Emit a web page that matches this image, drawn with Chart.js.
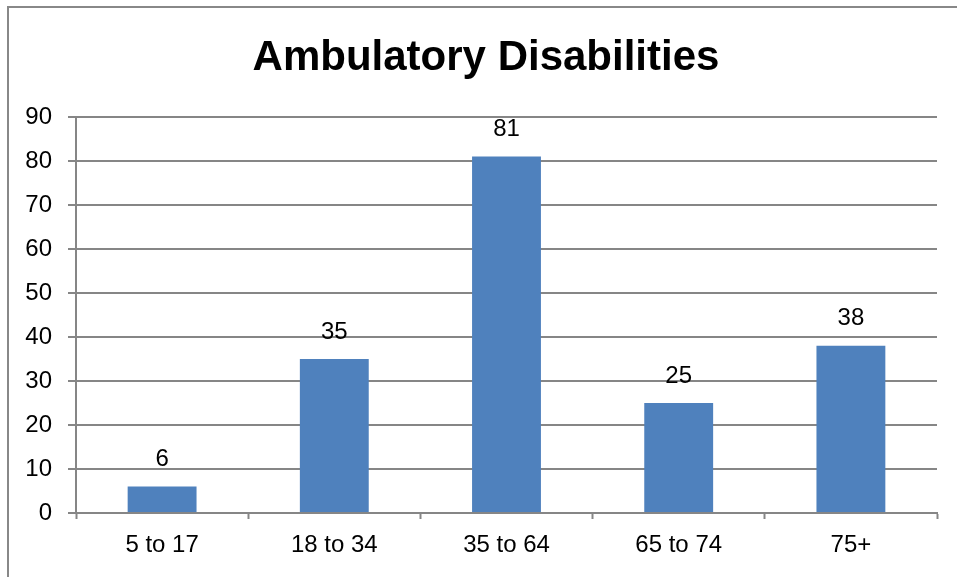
<!DOCTYPE html>
<html>
<head>
<meta charset="utf-8">
<script src="https://cdn.jsdelivr.net/npm/chart.js@4"></script>
<style>
  html, body { margin: 0; padding: 0; background: #fff; }
  #wrap { width: 957px; height: 577px; }
</style>
</head>
<body>
<div id="wrap"><canvas id="c" width="957" height="577"></canvas></div>
<script>
// Ambulatory Disabilities — column chart
const TITLE = 'Ambulatory Disabilities';
const CATEGORIES = ['5 to 17', '18 to 34', '35 to 64', '65 to 74', '75+'];
const VALUES = [6, 35, 81, 25, 38];
const Y_MIN = 0;
const Y_MAX = 90;
const Y_STEP = 10;

const BAR_COLOR = '#4f81bd';
const GRID_COLOR = '#868686';
const TEXT_COLOR = '#000';
const FONT = "'Liberation Sans', Arial, sans-serif";

// Outer chart border (runs off the right/bottom edge like the source)
const frame = {
  id: 'frame',
  beforeDraw(chart) {
    const ctx = chart.ctx;
    ctx.save();
    ctx.strokeStyle = '#888';
    ctx.lineWidth = 2;
    ctx.strokeRect(8, 7, 1000, 1000);
    ctx.restore();
  }
};

// Title centred on the (partly cropped) chart frame, not the canvas
const frameTitle = {
  id: 'frameTitle',
  afterDraw(chart) {
    const ctx = chart.ctx;
    ctx.save();
    ctx.fillStyle = TEXT_COLOR;
    ctx.font = 'bold 42px ' + FONT;
    ctx.textAlign = 'center';
    ctx.textBaseline = 'middle';
    ctx.fillText(TITLE, 486, 58);
    ctx.restore();
  }
};

// Value labels above each bar
const valueLabels = {
  id: 'valueLabels',
  afterDatasetsDraw(chart) {
    const ctx = chart.ctx;
    const meta = chart.getDatasetMeta(0);
    ctx.save();
    ctx.fillStyle = TEXT_COLOR;
    ctx.font = '24px ' + FONT;
    ctx.textAlign = 'center';
    ctx.textBaseline = 'bottom';
    meta.data.forEach((bar, i) => {
      ctx.fillText(VALUES[i], bar.x, bar.y - 15);
    });
    ctx.restore();
  }
};

new Chart(document.getElementById('c'), {
  type: 'bar',
  data: {
    labels: CATEGORIES,
    datasets: [{
      data: VALUES,
      backgroundColor: BAR_COLOR,
      borderWidth: 0,
      categoryPercentage: 1,
      barPercentage: 0.4,
    }],
  },
  options: {
    responsive: false,
    animation: false,
    devicePixelRatio: 1,
    layout: { padding: { left: 0, right: 20, top: 117, bottom: 0 } },
    plugins: {
      legend: { display: false },
      tooltip: { enabled: false },
      title: { display: false },
    },
    scales: {
      x: {
        grid: {
          drawOnChartArea: false,
          drawTicks: true,
          tickLength: 6,
          tickWidth: 2,
          color: GRID_COLOR,
        },
        border: { display: true, color: GRID_COLOR, width: 2 },
        ticks: { color: TEXT_COLOR, font: { family: FONT, size: 24 }, padding: 12 },
        afterFit(scale) { scale.height = 64; },
      },
      y: {
        min: Y_MIN,
        max: Y_MAX,
        grid: {
          color: GRID_COLOR,
          lineWidth: 2,
          drawTicks: true,
          tickLength: 8,
        },
        border: { display: true, color: GRID_COLOR, width: 2 },
        ticks: {
          stepSize: Y_STEP,
          color: TEXT_COLOR,
          font: { family: FONT, size: 24 },
          padding: 16,
        },
        afterFit(scale) { scale.width = 76; },
      },
    },
  },
  plugins: [frame, frameTitle, valueLabels],
});
</script>
</body>
</html>
